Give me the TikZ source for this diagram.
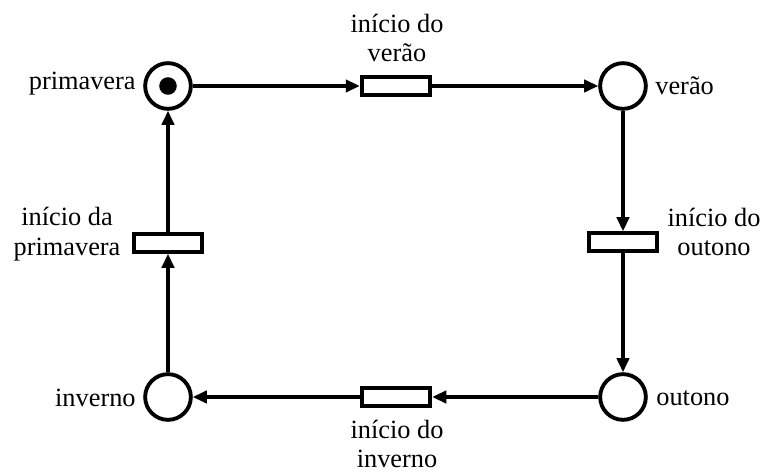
\documentclass[tikz,border=0pt]{standalone}
\usepackage{fontspec}
\setmainfont{Liberation Serif}
\usetikzlibrary{arrows.meta}
\tikzset{
  lugar/.style={draw, circle, line width=2.2pt, minimum size=26pt, inner sep=0pt},
  trans/.style={draw, rectangle, line width=2.2pt, minimum width=39pt, minimum height=10pt, inner sep=0pt},
  ficha/.style={circle, fill, inner sep=0pt, minimum size=10pt},
  arco/.style={line width=1.8pt, -{Triangle[length=8pt,width=7pt]}},
  rotulo/.style={font=\fontsize{15}{17}\selectfont, align=center, inner sep=0pt}
}
\begin{document}
\begin{tikzpicture}[x=0.02cm, y=-0.02cm]
          \useasboundingbox (0,0) rectangle (765,472);
          % lugares
          \node[lugar] (prim) at (168,86){};
          \node[lugar] (ver) at (623,86){};
          \node[lugar] (out) at (623,397){};
          \node[lugar] (inv) at (168,397){};
          \node[ficha] (tok) at (168,86){};
          % transicoes
          \node[trans] (tver) at (396,86){};
          \node[trans] (tout) at (623,242){};
          \node[trans] (tinv) at (396,397){};
          \node[trans] (tprim) at (168,243){};
          % rotulos
          \node[rotulo, anchor=east] (lprim) at (136,84){primavera};
          \node[rotulo, anchor=west] (lver) at (655,86){verão};
          \node[rotulo, anchor=west] (lout) at (656,398){outono};
          \node[rotulo, anchor=east] (linv) at (136,398){inverno};
          \node[rotulo] (ltver) at (397,38){início do\\verão};
          \node[rotulo] (ltout) at (714,232){início do\\outono};
          \node[rotulo] (ltinv) at (397,444){início do\\inverno};
          \node[rotulo] (ltprim) at (67,234){início da\\primavera};
          % arcos
          \draw[arco] (prim) -- (tver);
          \draw[arco] (tver) -- (ver);
          \draw[arco] (ver) -- (ver|-tout.north);
          \draw[arco] (tout) -- (tout|-out.north);
          \draw[arco] (out) -- (tinv);
          \draw[arco] (tinv) -- (inv);
          \draw[arco] (inv) -- (tprim);
          \draw[arco] (tprim) -- (prim);
\end{tikzpicture}
\end{document}
